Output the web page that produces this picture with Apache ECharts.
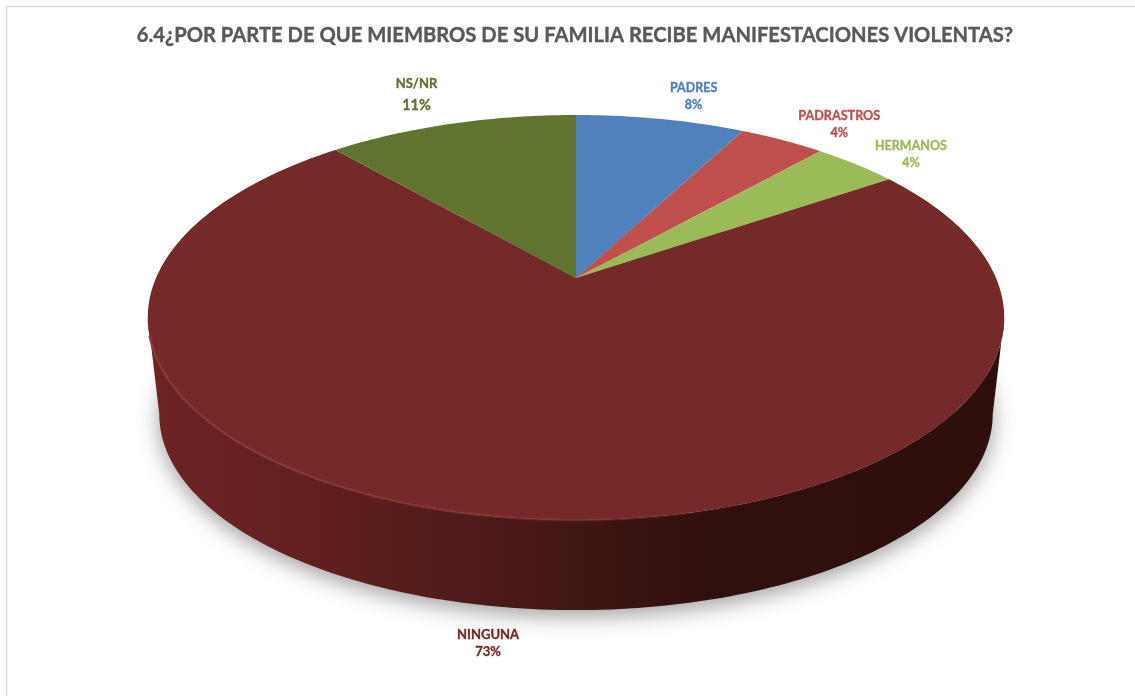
<!DOCTYPE html>
<html>
<head>
<meta charset="utf-8">
<style>html,body{margin:0;padding:0;background:#fff}#c{width:1135px;height:696px}</style>
<script src="https://cdn.jsdelivr.net/npm/echarts@6/dist/echarts.min.js"></script>
</head>
<body>
<div id="c"></div>
<script>
const titleText = '6.4¿POR PARTE DE QUE MIEMBROS DE SU FAMILIA RECIBE MANIFESTACIONES VIOLENTAS?';
const categories = ['PADRES', 'PADRASTROS', 'HERMANOS', 'NINGUNA', 'NS/NR'];
const values = [7.7, 3.9, 3.9, 73.1, 11.4];
const colors = ['#4f81bd', '#c0504d', '#9bbb59', '#752928', '#5f752f'];
const labelColors = ['#4f81bd', '#c0504d', '#9bbb59', '#772c2a', '#5f752f'];
const labelOffsets = [[33, -23], [57, -16], [55, -10], [-21, 126], [-35, -29]];
// name size, percent size, line height
const labelSizes = [[12.5, 12.5, 17], [12.6, 12.6, 17], [12.5, 12.5, 17], [13, 13, 17], [13, 14.5, 21]];

// Perspective view of the disc (projective map of the unit circle)
const view = { cx: 576, cy: 278, A: 420, B: 194.8, k: -0.195, rimCy: 318, depthCy: 415, depthX: 0.973, depthY: 0.966 };
const total = values.reduce((a, b) => a + b, 0);
const RAD = Math.PI / 180;
const tangent = Math.acos(view.k) / RAD;           // angle where the rim is widest

function rim(deg) {
  const X = Math.sin(deg * RAD), Y = -Math.cos(deg * RAD), d = 1 + view.k * Y;
  return [view.cx + view.A * X / d, view.cy + view.B * Y / d];
}
function lowerRim(deg) {
  const p = rim(deg);
  return [view.cx + (p[0] - view.cx) * view.depthX, view.depthCy + (p[1] - view.rimCy) * view.depthY];
}
function arc(fn, a, b) {
  const pts = [], n = Math.max(2, Math.ceil(Math.abs(b - a)));
  for (let i = 0; i <= n; i++) pts.push(fn(a + (b - a) * i / n));
  return pts;
}
function range(i, api) {
  let s = 0;
  for (let j = 0; j < i; j++) s += values[j];
  const v = api.value(0);
  return [s / total * 360, (s + v) / total * 360];
}
const grad = (stops) => new echarts.graphic.LinearGradient(148, 0, 1004, 0, stops, true);
const seriesData = categories.map((n, i) => ({ name: n, value: values[i] }));

function renderWall(params, api) {
  const r = range(params.dataIndex, api);
  const a = Math.max(r[0], tangent), b = Math.min(r[1], 360 - tangent);
  if (b <= a) return { type: 'group', children: [] };
  const top = arc(rim, a, b), bottom = arc(lowerRim, a, b).reverse();
  const outline = arc(lowerRim, 0, 360);
  return {
    type: 'group',
    children: [
      { type: 'polygon', shape: { points: outline },
        style: { fill: '#bbb', shadowBlur: 22, shadowColor: 'rgba(0,0,0,0.38)', shadowOffsetY: 6 } },
      { type: 'polygon', shape: { points: top.concat(bottom) },
        style: { fill: grad([
          { offset: 0, color: '#6d2423' }, { offset: 0.18, color: '#62201e' },
          { offset: 0.35, color: '#521c1a' }, { offset: 0.5, color: '#401614' },
          { offset: 0.66, color: '#2f100e' }, { offset: 1, color: '#2d0f0e' }
        ]) } }
    ]
  };
}
function renderTop(params, api) {
  const i = params.dataIndex, r = range(i, api);
  const pts = [[view.cx, view.cy]].concat(arc(rim, r[0], r[1]));
  const kids = [{ type: 'polygon', shape: { points: pts }, style: { fill: colors[i] } }];
  const a = Math.max(r[0], tangent), b = Math.min(r[1], 360 - tangent);
  if (b > a) {
    kids.push({ type: 'polyline', shape: { points: arc(rim, a, b - 5) },
      style: { fill: null, lineWidth: 2.5, stroke: grad([
        { offset: 0, color: 'rgba(140,58,54,0.8)' }, { offset: 0.5, color: 'rgba(135,55,52,0.55)' },
        { offset: 0.72, color: 'rgba(130,50,48,0)' }, { offset: 1, color: 'rgba(130,50,48,0)' }
      ]) } });
  }
  const mid = rim((r[0] + r[1]) / 2), off = labelOffsets[i], sz = labelSizes[i];
  const base = { fontFamily: 'Lato', fontWeight: 'bold', fill: labelColors[i], lineHeight: sz[2],
    stroke: labelColors[i], lineWidth: 0.35 };
  kids.push({ type: 'text',
    style: {
      x: mid[0] + off[0], y: mid[1] + off[1], align: 'center', verticalAlign: 'middle',
      text: '{n|' + categories[i] + '}\n{p|' + Math.round(api.value(0)) + '%}',
      fontFamily: 'Lato', fontWeight: 'bold', fill: labelColors[i],
      rich: {
        n: Object.assign({ fontSize: sz[0] }, base),
        p: Object.assign({ fontSize: sz[1] }, base)
      }
    } });
  return { type: 'group', children: kids };
}

const chart = echarts.init(document.getElementById('c'), null, { renderer: 'canvas' });
chart.setOption({
  animation: false,
  backgroundColor: '#fff',
  title: { text: titleText, left: 570, top: 20, textAlign: 'center',
    textStyle: { fontFamily: 'Lato', fontWeight: 'bold', fontSize: 20.2, color: '#595959',
      textBorderColor: '#595959', textBorderWidth: 0.4 } },
  tooltip: { show: false },
  graphic: [{ type: 'rect', z: -10, shape: { x: 6.5, y: 6.5, width: 1140, height: 700 },
    style: { fill: 'none', stroke: '#d9d9d9', lineWidth: 1.5 } }],
  series: [
    { type: 'custom', name: 'pared', coordinateSystem: 'none', z: 1, silent: true,
      renderItem: renderWall, data: seriesData },
    { type: 'custom', name: 'superficie', coordinateSystem: 'none', z: 2, silent: true,
      renderItem: renderTop, data: seriesData }
  ]
});
</script>
</body>
</html>
